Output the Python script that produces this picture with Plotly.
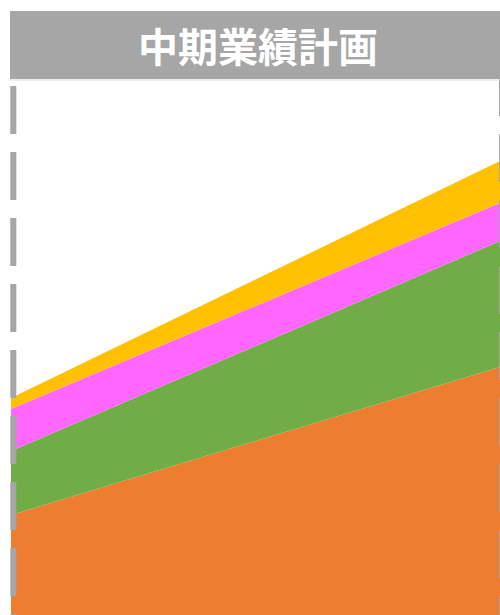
import plotly.graph_objects as go

periods = ["期初", "期末"]
orange = [100, 248]
green = [64, 126]
pink = [42, 38]
yellow = [11, 42]
series_names = ["A", "B", "C", "D"]
colors = ["#ED7D31", "#70AD47", "#FF66FF", "#FFC000"]
title_text = "中期業績計画"

fig = go.Figure()
for name, vals, col in zip(series_names, [orange, green, pink, yellow], colors):
    fig.add_trace(go.Scatter(
        x=periods, y=vals, name=name, mode="lines",
        stackgroup="one", line=dict(width=0, color=col),
        fillcolor=col, hoverinfo="skip"))

W, H = 500, 615
fig.update_layout(
    width=W, height=H, margin=dict(l=0, r=0, t=0, b=0),
    paper_bgcolor="white", plot_bgcolor="white", showlegend=False,
    xaxis=dict(domain=[11/W, 1], range=[0, 1], visible=False, type="category"),
    yaxis=dict(domain=[0, 1], range=[0, H], visible=False),
)

shapes = []
# left dashed line
shapes.append(dict(type="line", xref="paper", yref="paper",
                   x0=13.3/W, x1=13.3/W, y0=1-86/H, y1=-0.05,
                   line=dict(color="#A6A6A6", width=6, dash="48,18")))
# right dashed line (mostly clipped)
shapes.append(dict(type="line", xref="paper", yref="paper",
                   x0=502/W, x1=502/W, y0=1-68/H, y1=-0.05,
                   line=dict(color="#A6A6A6", width=6, dash="48,18")))
# title bar
shapes.append(dict(type="rect", xref="paper", yref="paper",
                   x0=10/W, x1=1.01, y0=1-79/H, y1=1-11/H,
                   fillcolor="#A6A6A6", line=dict(width=0)))
shapes.append(dict(type="line", xref="paper", yref="paper",
                   x0=10/W, x1=1.01, y0=1-80/H, y1=1-80/H,
                   line=dict(color="#DDDDDD", width=1)))
fig.update_layout(shapes=shapes)

fig.add_annotation(xref="paper", yref="paper", x=258/W, y=1-45/H,
                   text="<b>" + title_text + "</b>", showarrow=False,
                   xanchor="center", yanchor="middle",
                   font=dict(family="Noto Sans CJK JP", size=40, color="white"))

fig.write_html("out.html", config={"displayModeBar": False},
               post_script="document.body.style.margin='0';document.body.style.overflow='hidden';")
